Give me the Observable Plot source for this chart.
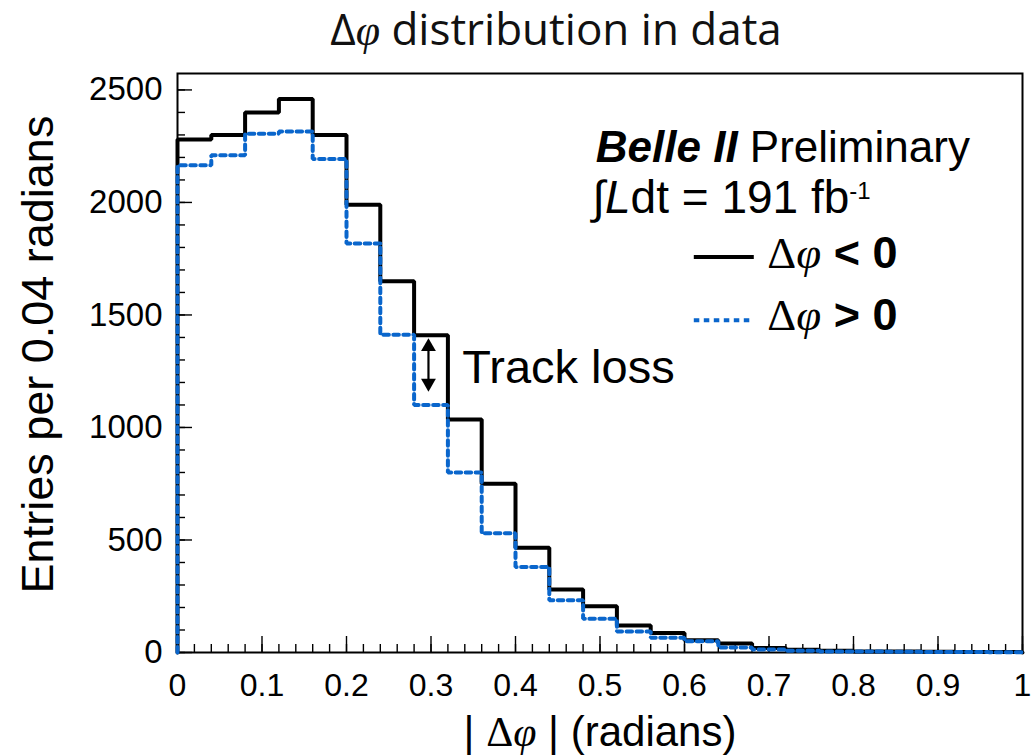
<!DOCTYPE html>
<html><head><meta charset="utf-8">
<script src="https://cdn.jsdelivr.net/npm/d3@7"></script>
<script src="https://cdn.jsdelivr.net/npm/@observablehq/plot@0.6"></script>
<style>
body{margin:0;background:#fff;width:1032px;height:756px;overflow:hidden}
#title{height:66px;box-sizing:border-box;padding-top:6px;padding-left:80px;text-align:center;font-family:"Open Sans",sans-serif;font-size:44px;line-height:44px;color:#111;white-space:nowrap}
#title .phi{font-family:"Liberation Serif",serif;font-style:italic}
</style></head>
<body>
<div id="title">Δ<span class="phi">φ</span> distribution in data</div>
<div id="chart"></div>
<script>
// bin lower edges (width 0.04 rad)
const binEdges = [0,0.04,0.08,0.12,0.16,0.2,0.24,0.28,0.32,0.36,0.4,0.44,0.48,0.52,0.56,0.6,0.64,0.68,0.72,0.76,0.8,0.84,0.88,0.92,0.96];
// Δφ < 0 (solid black)
const negCounts = [2280,2300,2400,2460,2300,1990,1650,1410,1035,750,465,280,205,120,87,54,40,20,12,8,5,4,3,2,2];
// Δφ > 0 (dotted blue)
const posCounts = [2165,2210,2305,2315,2193,1818,1412,1100,800,530,380,232,150,93,65,50,22,13,8,5,4,3,2,2,1];
const xTickValues = [0,0.1,0.2,0.3,0.4,0.5,0.6,0.7,0.8,0.9,1];
const yTickValues = [0,500,1000,1500,2000,2500];
const xMinor = d3.range(0,51).map(i => i/50);
const yMinor = d3.range(0,26).map(i => i*100);

const sans = "Liberation Sans, Arial, sans-serif";
const serif = "Liberation Serif, Times New Roman, serif";
const blue = "#0a66cc";

function outline(counts){
  return [{x:0,y:0}, ...binEdges.map((e,i)=>({x:e,y:counts[i]})), {x:1,y:0}];
}

const plot = Plot.plot({
  width: 1032, height: 690,
  marginLeft: 177, marginRight: 10, marginTop: 7, marginBottom: 104,
  x: {domain:[0,1], label:null},
  y: {domain:[0,2573], label:null},
  style: {fontFamily: sans, color:"black", background:"white", overflow:"visible"},
  marks: [
    Plot.axisY(yMinor, {tickSize:-8, text:null, label:null, strokeWidth:1.4}),
    Plot.axisY(yTickValues, {tickSize:-15, text:null, label:null, strokeWidth:1.4}),
    Plot.axisY(yTickValues, {tickSize:0, tickPadding:15, fontSize:33, label:null, tickFormat: d => String(d)}),
    Plot.axisX(xMinor, {tickSize:-8, text:null, label:null, strokeWidth:1.4}),
    Plot.axisX(xTickValues, {tickSize:-16, text:null, label:null, strokeWidth:1.4}),
    Plot.axisX(xTickValues, {tickSize:0, tickPadding:21, fontSize:32, label:null, tickFormat: d => String(d)}),
    Plot.frame({stroke:"black", strokeWidth:2}),
    Plot.line(outline(negCounts), {x:"x", y:"y", curve:"step-after", stroke:"black", strokeWidth:4, strokeLinejoin:"miter"}),
    Plot.line(outline(posCounts), {x:"x", y:"y", curve:"step-after", stroke:blue, strokeWidth:4, strokeDasharray:"5.5,4.5", strokeLinejoin:"miter"}),
    // annotations
    Plot.text(["Belle II Preliminary"], {x:()=>0.495, y:()=>2179, text:d=>d, textAnchor:"start", lineAnchor:"bottom", fontSize:44}),
    Plot.text(["∫Ldt = 191 fb-1"], {x:()=>0.491, y:()=>1951, text:d=>d, textAnchor:"start", lineAnchor:"bottom", fontSize:46}),
    Plot.link([{y:1757}], {x1:()=>0.611, x2:()=>0.682, y1:"y", y2:"y", stroke:"black", strokeWidth:4}),
    Plot.link([{y:1476}], {x1:()=>0.611, x2:()=>0.682, y1:"y", y2:"y", stroke:blue, strokeWidth:4, strokeDasharray:"5.5,4.5"}),
    Plot.text(["Δφ < 0"], {x:()=>0.698, y:()=>1707, text:d=>d, textAnchor:"start", lineAnchor:"bottom", fontSize:45}),
    Plot.text(["Δφ > 0"], {x:()=>0.698, y:()=>1431, text:d=>d, textAnchor:"start", lineAnchor:"bottom", fontSize:45}),
    Plot.text(["Track loss"], {x:()=>0.337, y:()=>1196, text:d=>d, textAnchor:"start", lineAnchor:"bottom", fontSize:47}),
    Plot.link([{a:1359,b:1197}], {x1:()=>0.297, x2:()=>0.297, y1:"a", y2:"b", stroke:"black", strokeWidth:2.2}),
    Plot.dot([{y:1359,r:0},{y:1197,r:180}], {x:()=>0.297, y:"y", symbol:"triangle", r:5.5, fill:"black", stroke:null, rotate:"r"}),
    // axis titles
    Plot.text(["Entries per 0.04 radians"], {frameAnchor:"left", text:d=>d, rotate:-90, dx:-125, dy:-8.5, lineAnchor:"bottom", textAnchor:"middle", fontSize:45}),
    Plot.text(["| Δφ | (radians)"], {frameAnchor:"bottom", text:d=>d, dy:93, lineAnchor:"bottom", textAnchor:"middle", fontSize:42})
  ]
});

function rich(svg, plain, parts){
  d3.select(svg).selectAll("text").filter(function(){return this.textContent === plain;}).each(function(){
    const t = d3.select(this); t.text(null);
    for (const p of parts){
      const s = t.append("tspan").text(p.t);
      if (p.s) for (const k in p.s) s.style(k, p.s[k]);
      if (p.dy) s.attr("dy", p.dy);
    }
  });
}
const S = {"font-family": serif};
const SI = {"font-family": serif, "font-style": "italic"};
rich(plot, "Belle II Preliminary", [{t:"Belle II", s:{"font-weight":"bold","font-style":"italic"}}, {t:" Preliminary"}]);
rich(plot, "∫Ldt = 191 fb-1", [{t:"∫"}, {t:"L", s:{"font-style":"italic"}}, {t:"dt = 191 fb"}, {t:"-1", s:{"font-size":"24px"}, dy:"-14"}]);
rich(plot, "Δφ < 0", [{t:"Δ", s:S}, {t:"φ", s:SI}, {t:" < 0", s:{"font-weight":"bold"}}]);
rich(plot, "Δφ > 0", [{t:"Δ", s:S}, {t:"φ", s:SI}, {t:" > 0", s:{"font-weight":"bold"}}]);
rich(plot, "| Δφ | (radians)", [{t:"| "}, {t:"Δ", s:S}, {t:"φ", s:SI}, {t:" | (radians)"}]);

document.getElementById("chart").appendChild(plot);
</script>
</body></html>
